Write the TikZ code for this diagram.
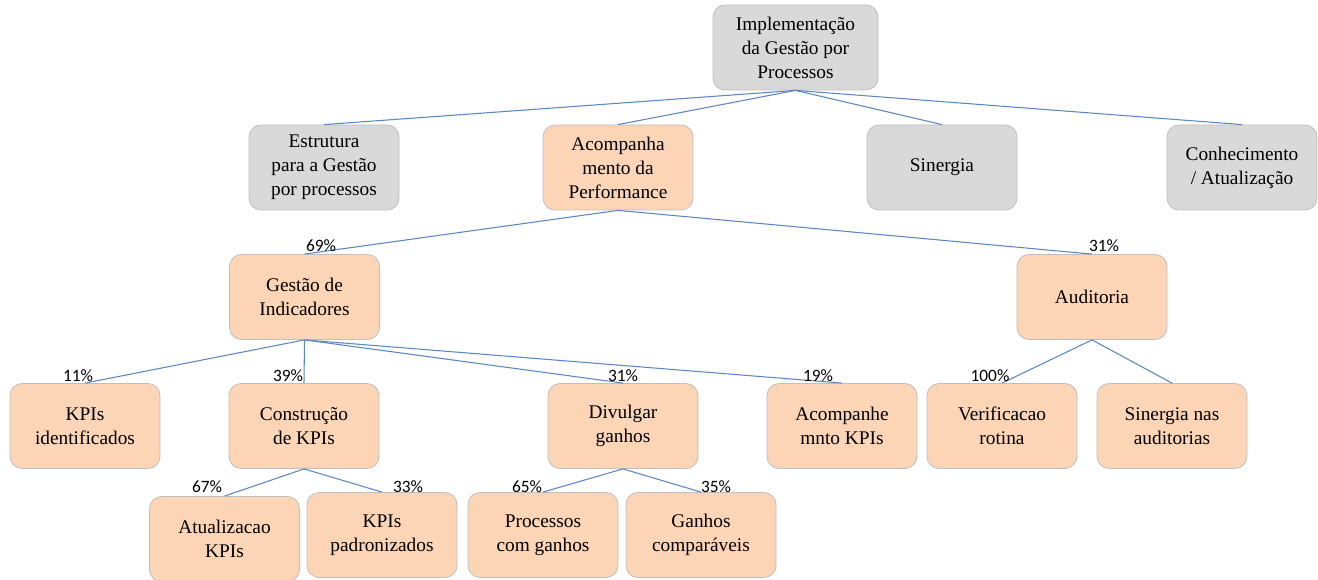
\documentclass[tikz,border=0pt]{standalone}
\usepackage{fontspec}
\setmainfont{Liberation Serif}
\newfontfamily\lblfont{Carlito}
\definecolor{boxgrey}{HTML}{D9D9D9}
\definecolor{boxpeach}{HTML}{FBD5B5}
\definecolor{boxline}{HTML}{BFBFBF}
\definecolor{linkblue}{HTML}{5B87C5}
\begin{document}
\begin{tikzpicture}[x=0.75pt,y=-0.75pt,
  box/.style={draw=boxline, line width=0.6pt, rounded corners=9pt,
    minimum width=112.5pt, minimum height=63.75pt, align=center,
    font=\fontsize{14.5}{18}\selectfont, inner sep=2pt},
  grey/.style={box, fill=boxgrey},
  peach/.style={box, fill=boxpeach},
  link/.style={draw=linkblue, line width=0.8pt},
  pct/.style={font=\lblfont\fontsize{13}{15}\selectfont, inner sep=0pt}]
\useasboundingbox (0,0) rectangle (1318,580);

% level 0
\node[grey, minimum width=123.75pt] (root) at (795.5,47.5) {Implementação\\da Gestão por\\Processos};

% level 1
\node[grey]  (estr)  at (324,167.5)  {Estrutura\\para a Gestão\\por processos};
\node[peach] (acomp) at (618,167.5)  {Acompanha\\mento da\\Performance};
\node[grey]  (sin)   at (942,167.5)  {Sinergia};
\node[grey]  (conh)  at (1242,167.5) {Conhecimento\\/ Atualização};

% level 2
\node[peach] (gest) at (304.5,297) {Gestão de\\Indicadores};
\node[peach] (aud)  at (1092,297)  {Auditoria};

% level 3
\node[peach] (kpiid)  at (85,426)   {KPIs\\identificados};
\node[peach] (constr) at (304,426)  {Construção\\de KPIs};
\node[peach] (divul)  at (623,426)  {Divulgar\\ganhos};
\node[peach] (acompk) at (842,426)  {Acompanhe\\mnto KPIs};
\node[peach] (verif)  at (1002,426) {Verificacao\\rotina};
\node[peach] (sinaud) at (1172,426) {Sinergia nas\\auditorias};

% level 4
\node[peach] (atual)  at (224.5,539) {Atualizacao\\KPIs};
\node[peach] (kpipad) at (382,535)   {KPIs\\padronizados};
\node[peach] (proc)   at (543,535)   {Processos\\com ganhos};
\node[peach] (ganhos) at (701,535)   {Ganhos\\comparáveis};

% connectors
\draw[link] (root.south) -- (estr.north);
\draw[link] (root.south) -- (acomp.north);
\draw[link] (root.south) -- (sin.north);
\draw[link] (root.south) -- (conh.north);
\draw[link] (acomp.south) -- (gest.north);
\draw[link] (acomp.south) -- (aud.north);
\draw[link] (gest.south) -- (kpiid.north);
\draw[link] (gest.south) -- (constr.north);
\draw[link] (gest.south) -- (divul.north);
\draw[link] (gest.south) -- (acompk.north);
\draw[link] (aud.south) -- (verif.north);
\draw[link] (aud.south) -- (sinaud.north);
\draw[link] (constr.south) -- (atual.north);
\draw[link] (constr.south) -- (kpipad.north);
\draw[link] (divul.south) -- (proc.north);
\draw[link] (divul.south) -- (ganhos.north);

% shares
\node[pct] (p1)  at (321,246)  {69\%};
\node[pct] (p2)  at (1104,246) {31\%};
\node[pct] (p3)  at (78,376)   {11\%};
\node[pct] (p4)  at (288,376)  {39\%};
\node[pct] (p5)  at (623,376)  {31\%};
\node[pct] (p6)  at (818,376)  {19\%};
\node[pct] (p7)  at (990,376)  {100\%};
\node[pct] (p8)  at (207,487)  {67\%};
\node[pct] (p9)  at (408,487)  {33\%};
\node[pct] (p10) at (527,487)  {65\%};
\node[pct] (p11) at (716,487)  {35\%};
\end{tikzpicture}
\end{document}
